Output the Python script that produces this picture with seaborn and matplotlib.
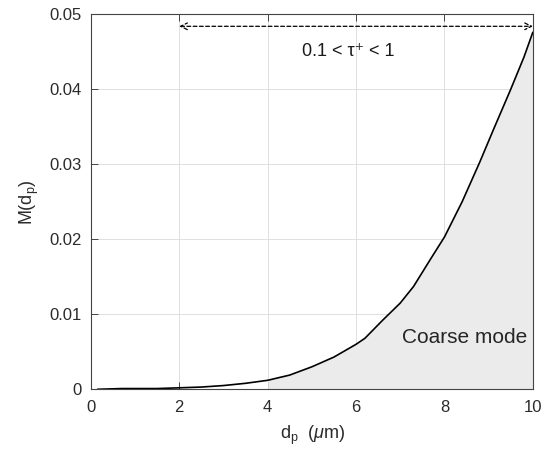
import matplotlib
matplotlib.use("Agg")
import matplotlib.pyplot as plt
import numpy as np
import pandas as pd
import seaborn as sns

# Data
dp = [0.15, 0.7, 1.0, 1.5, 2.0, 2.5, 3.0, 3.5, 4.0, 4.5, 5.0, 5.5, 6.0, 6.2,
      6.6, 7.0, 7.3, 7.7, 8.0, 8.4, 8.8, 9.1, 9.5, 9.8, 10.0]
mass = [0.0, 0.0001, 0.0001, 0.0001, 0.0002, 0.0003, 0.0005, 0.0008, 0.0012,
        0.0019, 0.0030, 0.0043, 0.0060, 0.0068, 0.0092, 0.0115, 0.0137, 0.0175,
        0.0203, 0.0250, 0.0303, 0.0345, 0.0400, 0.0443, 0.0476]
x_ticks = [0, 2, 4, 6, 8, 10]
x_ticklabels = ["0", "2", "4", "6", "8", "10"]
y_ticks = [0, 0.01, 0.02, 0.03, 0.04, 0.05]
y_ticklabels = ["0", "0.01", "0.02", "0.03", "0.04", "0.05"]
coarse_start = 4.0
range_start, range_end, range_y = 2.0, 10.0, 0.0484

df = pd.DataFrame({"dp": dp, "M": mass})

sns.set_theme(style="whitegrid")
plt.rcParams["font.family"] = ["Liberation Sans", "DejaVu Sans"]
plt.rcParams["mathtext.fontset"] = "custom"
plt.rcParams["mathtext.rm"] = "Liberation Sans"
plt.rcParams["mathtext.it"] = "Liberation Sans:italic"

fig = plt.figure(figsize=(5.51, 4.54), dpi=100)
ax = fig.add_axes([0.165, 0.1425, 0.802, 0.826])

# shaded coarse-mode region
sub = df[df["dp"] >= coarse_start]
ax.fill_between(sub["dp"], 0, sub["M"], color="#ebebeb", linewidth=0, zorder=1)

sns.lineplot(data=df, x="dp", y="M", ax=ax, color="black", linewidth=1.2,
             zorder=3)

ax.set_xlim(0, 10)
ax.set_ylim(0, 0.05)
ax.set_xticks(x_ticks)
ax.set_xticklabels(x_ticklabels)
ax.set_yticks(y_ticks)
ax.set_yticklabels(y_ticklabels)

ax.grid(True, color="#e0e0e0", linewidth=0.7)
ax.set_axisbelow(True)
ax.set_facecolor("white")
for s in ax.spines.values():
    s.set_visible(True)
    s.set_color("#444444")
    s.set_linewidth(0.8)

ax.tick_params(axis="both", which="both", direction="in", length=5,
               width=0.7, color="#444444", labelsize=12, labelcolor="#2b2b2b",
               top=True, right=True, bottom=True, left=True)
ax.tick_params(axis="x", pad=7.5)
ax.tick_params(axis="y", pad=6.5)

ax.set_xlabel("")
ax.set_ylabel("")
fig.text(0.567, 1 - 439.3 / 454, r"d$_\mathrm{p}$  ($\mu$m)", fontsize=13,
         color="#2b2b2b", ha="center", va="baseline")
fig.text(33.3 / 551, 1 - 202 / 454, r"M(d$_\mathrm{p}$)", fontsize=13,
         color="#2b2b2b", ha="center", va="baseline", rotation=90,
         rotation_mode="anchor")

ax.annotate("", xy=(range_end, range_y), xytext=(range_start, range_y),
            arrowprops=dict(arrowstyle="<->", linestyle=(0, (3, 2)),
                            color="black", linewidth=0.9,
                            shrinkA=0, shrinkB=0, mutation_scale=12),
            zorder=4)
ax.text(5.83, 0.04444, "0.1 < τ⁺ < 1", ha="center", va="baseline",
        fontsize=13, color="#1a1a1a", family=["Liberation Sans", "DejaVu Sans"])
ax.text(8.45, 0.0062, "Coarse mode", ha="center", va="baseline", fontsize=15,
        color="#262626")

fig.savefig("out.png", dpi=100)
